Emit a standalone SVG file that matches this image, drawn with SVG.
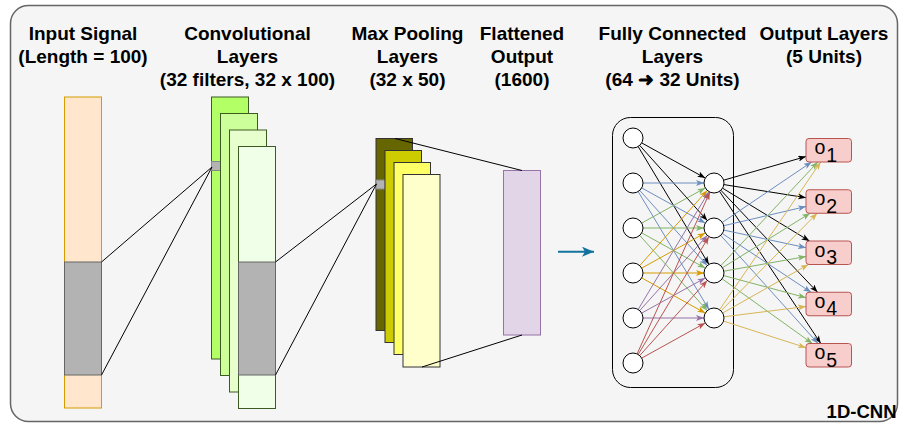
<svg xmlns="http://www.w3.org/2000/svg" width="899" height="423" viewBox="0 0 899 423">
  <style>
    .title { font-family: "Liberation Sans", Arial, sans-serif; font-weight: bold; font-size: 19px; fill: #000; text-anchor: middle; }
    .lbl { font-family: "Liberation Sans", Arial, sans-serif; font-size: 19.5px; fill: #000; }
    .link { stroke: #000; stroke-width: 1; fill: none; }
    .conv { stroke: #3c5a22; stroke-width: 1; }
    .pool { stroke: #333; stroke-width: 1; }
    .neuron { fill: #fff; stroke: #000; stroke-width: 1; }
    .out { fill: #f8cecc; stroke: #b85450; stroke-width: 1; }
    .e { stroke-width: 1; fill: none; }
    .k { stroke: #000; marker-end: url(#ak); }
    .b { stroke: #6c8ebf; marker-end: url(#ab); }
    .g { stroke: #82b366; marker-end: url(#ag); }
    .o { stroke: #d79b00; marker-end: url(#ao); }
    .p { stroke: #9673a6; marker-end: url(#ap); }
    .r { stroke: #b85450; marker-end: url(#ar); }
    .y { stroke: #d6b656; marker-end: url(#ay); }
  </style>
  <defs>
    <marker id="ak" viewBox="0 0 8 6" refX="8" refY="3" markerWidth="8" markerHeight="6" markerUnits="userSpaceOnUse" orient="auto"><path d="M0,0 L8,3 L0,6 L2,3 Z" fill="#000"/></marker>
    <marker id="ab" viewBox="0 0 8 6" refX="8" refY="3" markerWidth="8" markerHeight="6" markerUnits="userSpaceOnUse" orient="auto"><path d="M0,0 L8,3 L0,6 L2,3 Z" fill="#6c8ebf"/></marker>
    <marker id="ag" viewBox="0 0 8 6" refX="8" refY="3" markerWidth="8" markerHeight="6" markerUnits="userSpaceOnUse" orient="auto"><path d="M0,0 L8,3 L0,6 L2,3 Z" fill="#82b366"/></marker>
    <marker id="ao" viewBox="0 0 8 6" refX="8" refY="3" markerWidth="8" markerHeight="6" markerUnits="userSpaceOnUse" orient="auto"><path d="M0,0 L8,3 L0,6 L2,3 Z" fill="#d79b00"/></marker>
    <marker id="ap" viewBox="0 0 8 6" refX="8" refY="3" markerWidth="8" markerHeight="6" markerUnits="userSpaceOnUse" orient="auto"><path d="M0,0 L8,3 L0,6 L2,3 Z" fill="#9673a6"/></marker>
    <marker id="ar" viewBox="0 0 8 6" refX="8" refY="3" markerWidth="8" markerHeight="6" markerUnits="userSpaceOnUse" orient="auto"><path d="M0,0 L8,3 L0,6 L2,3 Z" fill="#b85450"/></marker>
    <marker id="ay" viewBox="0 0 8 6" refX="8" refY="3" markerWidth="8" markerHeight="6" markerUnits="userSpaceOnUse" orient="auto"><path d="M0,0 L8,3 L0,6 L2,3 Z" fill="#d6b656"/></marker>
    <marker id="aflow" viewBox="0 0 12 10" refX="12" refY="5" markerWidth="12" markerHeight="10" markerUnits="userSpaceOnUse" orient="auto"><path d="M0,0 L12,5 L0,10 L3,5 Z" fill="#10739e"/></marker>
  </defs>

  <!-- outer frame -->
  <rect id="frame" x="10.5" y="5.5" width="887" height="416" rx="18" ry="18" fill="#f5f5f5" stroke="#666" stroke-width="1.5"/>

  <!-- column titles -->
  <g id="titles">
    <text class="title" x="83" y="40">Input Signal</text>
    <text class="title" x="83" y="63">(Length = 100)</text>
    <text class="title" x="247.5" y="40">Convolutional</text>
    <text class="title" x="247.5" y="63">Layers</text>
    <text class="title" x="247.5" y="86">(32 filters, 32 x 100)</text>
    <text class="title" x="407.5" y="40">Max Pooling</text>
    <text class="title" x="407.5" y="63">Layers</text>
    <text class="title" x="407.5" y="86">(32 x 50)</text>
    <text class="title" x="522" y="40">Flattened</text>
    <text class="title" x="522" y="63">Output</text>
    <text class="title" x="522" y="86">(1600)</text>
    <text class="title" x="672.5" y="40">Fully Connected</text>
    <text class="title" x="672.5" y="63">Layers</text>
    <text class="title" x="672.5" y="86">(64 ➜ 32 Units)</text>
    <text class="title" x="824" y="40">Output Layers</text>
    <text class="title" x="824" y="63">(5 Units)</text>
  </g>

  <!-- input signal -->
  <g id="input-signal">
    <rect x="64.5" y="97" width="37" height="311" fill="#ffe6cc" stroke="#d79b00"/>
    <rect x="64.5" y="262" width="37" height="113" fill="#b3b3b3" stroke="#666"/>
  </g>

  <!-- convolutional feature maps -->
  <g id="conv-layers">
    <rect class="conv" x="211.5" y="97" width="37" height="262" fill="#b3ff66"/>
    <rect x="211.5" y="161.5" width="9" height="9" fill="#b3b3b3" stroke="#888"/>
    <rect class="conv" x="220.5" y="113.5" width="37" height="262" fill="#ccff99"/>
    <rect class="conv" x="229.5" y="130" width="37" height="262" fill="#e6ffcc"/>
    <rect class="conv" x="238.5" y="146.5" width="37" height="262" fill="#f0ffe8"/>
    <rect x="238.5" y="262" width="37" height="113" fill="#b3b3b3" stroke="#666"/>
  </g>

  <!-- max pooling maps -->
  <g id="pool-layers">
    <rect class="pool" x="376" y="138.5" width="36.5" height="192" fill="#666600"/>
    <rect x="376" y="180" width="9" height="9" fill="#b3b3b3" stroke="#888"/>
    <rect class="pool" x="385" y="150.5" width="36.5" height="192" fill="#cccc00"/>
    <rect class="pool" x="394" y="162.5" width="36.5" height="192" fill="#ffff66"/>
    <rect class="pool" x="403" y="174.5" width="37" height="192.5" fill="#ffffcc"/>
  </g>

  <!-- flattened vector -->
  <g id="flattened">
    <rect x="503.5" y="170.5" width="37" height="164.5" fill="#e1d5e7" stroke="#9673a6"/>
  </g>

  <!-- receptive-field projections and flow arrow -->
  <g id="projections">
    <line class="link" x1="101.5" y1="262" x2="212" y2="167"/>
    <line class="link" x1="101.5" y1="375" x2="212" y2="167"/>
    <line class="link" x1="275.5" y1="262" x2="376.5" y2="184"/>
    <line class="link" x1="275.5" y1="375" x2="376.5" y2="184"/>
    <line class="link" x1="395" y1="138.5" x2="522" y2="170.5"/>
    <line class="link" x1="422" y1="367" x2="522" y2="335"/>
    <line x1="558" y1="251.7" x2="594" y2="251.7" stroke="#10739e" stroke-width="2" marker-end="url(#aflow)"/>
  </g>

  <!-- fully connected block -->
  <g id="fc-block">
    <rect x="612.5" y="117.5" width="121" height="270" rx="18" ry="18" fill="none" stroke="#000"/>
  </g>

  <!-- connections -->
  <g id="connectors" class="e">
    <!-- input neurons to hidden neurons -->
    <line class="e k" x1="641.7" y1="142.9" x2="705.3" y2="178.1"/>
    <line class="e k" x1="639.7" y1="145.4" x2="707.3" y2="220.6"/>
    <line class="e k" x1="638.2" y1="146.6" x2="708.9" y2="264.4"/>

    <line class="e b" x1="643" y1="183" x2="704" y2="183"/>
    <line class="e b" x1="641.7" y1="187.9" x2="705.3" y2="223.1"/>
    <line class="e b" x1="639.7" y1="190.4" x2="707.3" y2="265.6"/>
    <line class="e b" x1="638.2" y1="191.6" x2="708.9" y2="309.4"/>

    <line class="e g" x1="641.7" y1="223.1" x2="705.3" y2="187.9"/>
    <line class="e g" x1="643" y1="228" x2="704" y2="228"/>
    <line class="e g" x1="641.7" y1="232.9" x2="705.3" y2="268.1"/>
    <line class="e g" x1="639.7" y1="235.4" x2="707.3" y2="310.6"/>

    <line class="e o" x1="639.7" y1="265.6" x2="707.3" y2="190.4"/>
    <line class="e o" x1="641.7" y1="268.1" x2="705.3" y2="232.9"/>
    <line class="e o" x1="643" y1="273" x2="704" y2="273"/>
    <line class="e o" x1="641.7" y1="277.9" x2="705.3" y2="313.1"/>

    <line class="e p" x1="638.2" y1="309.4" x2="708.9" y2="191.6"/>
    <line class="e p" x1="639.7" y1="310.6" x2="707.3" y2="235.4"/>
    <line class="e p" x1="641.7" y1="313.1" x2="705.3" y2="277.9"/>
    <line class="e p" x1="643" y1="318" x2="704" y2="318"/>

    <line class="e r" x1="637.1" y1="353.9" x2="709.9" y2="192.1"/>
    <line class="e r" x1="638.2" y1="354.4" x2="708.9" y2="236.6"/>
    <line class="e r" x1="639.7" y1="355.6" x2="707.3" y2="280.4"/>
    <line class="e r" x1="641.7" y1="358.1" x2="705.3" y2="322.9"/>

    <!-- hidden neurons to output units -->
    <line class="e k" x1="723.6" y1="180.2" x2="806" y2="156.5"/>
    <line class="e k" x1="723.9" y1="184.6" x2="806" y2="197.7"/>
    <line class="e k" x1="722.6" y1="188.2" x2="809.5" y2="241"/>
    <line class="e k" x1="720.9" y1="190.3" x2="817.6" y2="292.3"/>
    <line class="e k" x1="719.5" y1="191.3" x2="820.8" y2="343.5"/>

    <line class="e b" x1="722.3" y1="222.4" x2="811.6" y2="162"/>
    <line class="e b" x1="723.7" y1="225.7" x2="806" y2="206.5"/>
    <line class="e b" x1="723.8" y1="230.1" x2="806" y2="247.7"/>
    <line class="e b" x1="722.3" y1="233.5" x2="811.1" y2="292.3"/>
    <line class="e b" x1="720.7" y1="235.4" x2="818.1" y2="343.5"/>

    <line class="e g" x1="720.8" y1="265.7" x2="817.8" y2="162"/>
    <line class="e g" x1="722.5" y1="267.7" x2="810.1" y2="213.2"/>
    <line class="e g" x1="723.8" y1="271.2" x2="806" y2="256.5"/>
    <line class="e g" x1="723.7" y1="275.6" x2="806" y2="297.7"/>
    <line class="e g" x1="722.1" y1="278.8" x2="812.4" y2="343.5"/>

    <line class="e y" x1="719.6" y1="309.7" x2="820.7" y2="162"/>
    <line class="e y" x1="721" y1="310.9" x2="817.2" y2="213.2"/>
    <line class="e y" x1="722.7" y1="313" x2="808.4" y2="264.5"/>
    <line class="e y" x1="723.9" y1="316.8" x2="806" y2="306.5"/>
    <line class="e y" x1="723.5" y1="321.1" x2="806" y2="347.7"/>
  </g>

  <!-- input neurons of the dense block -->
  <g id="fc-in-1"><circle class="neuron" cx="633" cy="138" r="10"/></g>
  <g id="fc-in-2"><circle class="neuron" cx="633" cy="183" r="10"/></g>
  <g id="fc-in-3"><circle class="neuron" cx="633" cy="228" r="10"/></g>
  <g id="fc-in-4"><circle class="neuron" cx="633" cy="273" r="10"/></g>
  <g id="fc-in-5"><circle class="neuron" cx="633" cy="318" r="10"/></g>
  <g id="fc-in-6"><circle class="neuron" cx="633" cy="363" r="10"/></g>

  <!-- hidden neurons -->
  <g id="fc-h-1"><circle class="neuron" cx="714" cy="183" r="10"/></g>
  <g id="fc-h-2"><circle class="neuron" cx="714" cy="228" r="10"/></g>
  <g id="fc-h-3"><circle class="neuron" cx="714" cy="273" r="10"/></g>
  <g id="fc-h-4"><circle class="neuron" cx="714" cy="318" r="10"/></g>

  <!-- output units -->
  <g id="out-1">
    <rect class="out" x="806" y="138.5" width="45.5" height="23.5" rx="3"/>
    <text class="lbl" x="814.5" y="154">o<tspan dx="1" dy="7.5">1</tspan></text>
  </g>
  <g id="out-2">
    <rect class="out" x="806" y="189.75" width="45.5" height="23.5" rx="3"/>
    <text class="lbl" x="814.5" y="205.25">o<tspan dx="1" dy="7.5">2</tspan></text>
  </g>
  <g id="out-3">
    <rect class="out" x="806" y="241" width="45.5" height="23.5" rx="3"/>
    <text class="lbl" x="814.5" y="256.5">o<tspan dx="1" dy="7.5">3</tspan></text>
  </g>
  <g id="out-4">
    <rect class="out" x="806" y="292.25" width="45.5" height="23.5" rx="3"/>
    <text class="lbl" x="814.5" y="307.75">o<tspan dx="1" dy="7.5">4</tspan></text>
  </g>
  <g id="out-5">
    <rect class="out" x="806" y="343.5" width="45.5" height="23.5" rx="3"/>
    <text class="lbl" x="814.5" y="359">o<tspan dx="1" dy="7.5">5</tspan></text>
  </g>

  <!-- caption -->
  <text id="caption" x="896.5" y="417.5" font-family="'Liberation Sans', Arial, sans-serif" font-weight="bold" font-size="18.5" text-anchor="end">1D-CNN</text>
</svg>
